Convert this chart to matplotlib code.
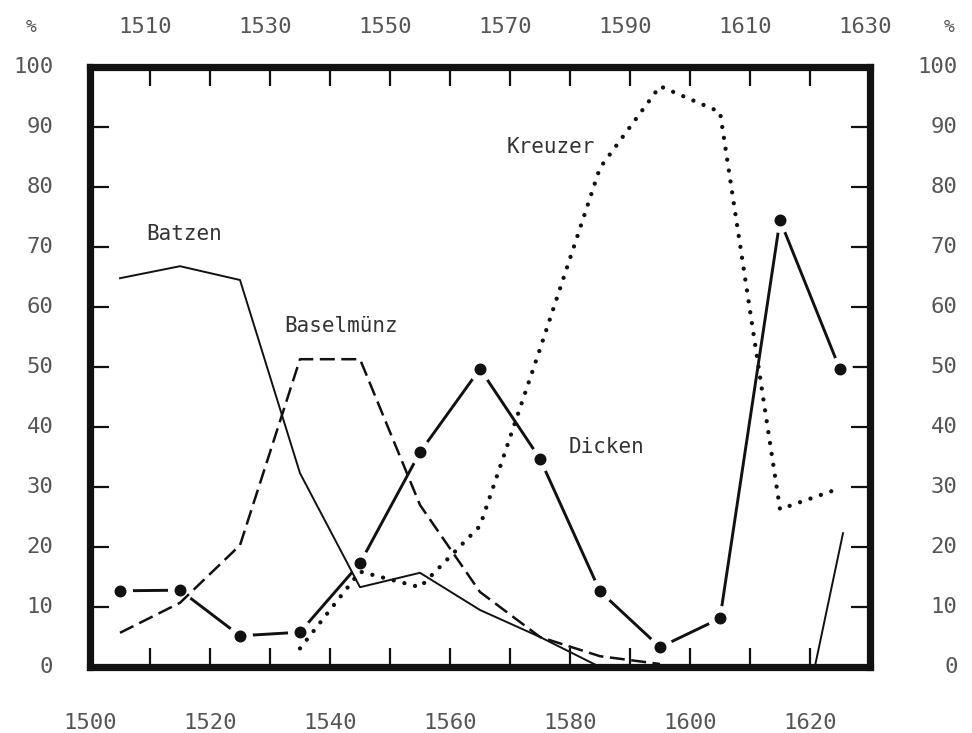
import matplotlib
matplotlib.use("Agg")
import matplotlib.pyplot as plt

plt.rcParams["font.family"] = ["DejaVu Sans Mono", "DejaVu Sans"]

# share of coin types (%) by decade mid-points
YEARS = [1505, 1515, 1525, 1535, 1545, 1555, 1565, 1575, 1585, 1595, 1605, 1615, 1625]

DICKEN = [12.7, 12.8, 5.2, 5.8, 17.3, 35.8, 49.7, 34.7, 12.6, 3.3, 8.1, 74.5, 49.6]

BATZEN_YEARS = [1505, 1515, 1525, 1535, 1545, 1555, 1565, 1575, 1585]
BATZEN = [64.8, 66.8, 64.5, 32.3, 13.3, 15.7, 9.5, 5.0, 0.0]
BATZEN_LATE_YEARS = [1620.8, 1625.5]
BATZEN_LATE = [0.0, 22.3]

BASEL_YEARS = [1505, 1515, 1525, 1535, 1545, 1555, 1565, 1575, 1585, 1595]
BASELMUENZ = [5.7, 10.7, 20.3, 51.3, 51.3, 27.0, 12.5, 5.0, 1.8, 0.5]

KREUZER_YEARS = [1535, 1545, 1555, 1565, 1575, 1585, 1595, 1605, 1615, 1625]
KREUZER = [3.1, 15.9, 13.3, 23.5, 53.0, 83.2, 96.8, 92.5, 26.3, 29.8]

BOTTOM_LABELS = [1500, 1520, 1540, 1560, 1580, 1600, 1620]
TOP_LABELS = [1510, 1530, 1550, 1570, 1590, 1610, 1630]
PCT_LABELS = [0, 10, 20, 30, 40, 50, 60, 70, 80, 90, 100]

SERIES_LABELS = [
    ("Batzen", 1515.7, 72.2),
    ("Baselmünz", 1541.8, 56.8),
    ("Kreuzer", 1576.8, 86.6),
    ("Dicken", 1586.0, 36.7),
]

TICK_COLOR = "#555555"

fig = plt.figure(figsize=(9.72, 7.33), dpi=100)
ax = fig.add_axes([90 / 972, 66 / 733, 780 / 972, 600 / 733])
ax.set_xlim(1500, 1630)
ax.set_ylim(0, 100)

# Dicken: thick line, dots with a white gap round them
ax.plot(YEARS, DICKEN, color="#111111", lw=2.1, zorder=2, solid_capstyle="butt")
ax.plot(YEARS, DICKEN, linestyle="none", marker="o", ms=18, mfc="white",
        mec="none", zorder=3)
ax.plot(YEARS, DICKEN, linestyle="none", marker="o", ms=8.6, mfc="#111111",
        mec="none", zorder=4)

# Batzen: thin solid
ax.plot(BATZEN_YEARS, BATZEN, color="#111111", lw=1.4, zorder=5)
ax.plot(BATZEN_LATE_YEARS, BATZEN_LATE, color="#111111", lw=1.4, zorder=5)

# Baselmuenz: dashed
bl, = ax.plot(BASEL_YEARS, BASELMUENZ, color="#111111", lw=1.8, zorder=5)
bl.set_dashes((6.0, 2.6))

# Kreuzer: round dots
kl, = ax.plot(KREUZER_YEARS, KREUZER, color="#111111", lw=3.1, zorder=5,
              dash_capstyle="round")
kl.set_dashes((0.01, 2.55))

for name, xx, yy in SERIES_LABELS:
    ax.text(xx, yy, name, ha="center", va="center", fontsize=15,
            color="#333333", zorder=6)

# frame and inward ticks
for side in ["left", "right", "top", "bottom"]:
    ax.spines[side].set_linewidth(5.2)
    ax.spines[side].set_color("#111111")
ax.set_xticks(range(1510, 1630, 10))
ax.set_yticks(range(10, 100, 10))
ax.tick_params(axis="both", which="major", direction="in", length=14, width=1.6,
               color="#111111", top=True, bottom=True, left=True, right=True,
               labelbottom=False, labelleft=False, labeltop=False, labelright=False)

lab = dict(fontsize=16, color=TICK_COLOR, va="center", annotation_clip=False)
for yr in BOTTOM_LABELS:
    ax.annotate(str(yr), (yr, 0), xytext=(0, -40), textcoords="offset points",
                ha="center", **lab)
for yr in TOP_LABELS:
    ax.annotate(str(yr), (yr, 100), xytext=(-3.5, 29), textcoords="offset points",
                ha="center", **lab)
for p in PCT_LABELS:
    ax.annotate(str(p), (1500, p), xytext=(-26.5, 0), textcoords="offset points",
                ha="right", **lab)
    ax.annotate(str(p), (1630, p), xytext=(63, 0), textcoords="offset points",
                ha="right", **lab)
ax.annotate("%", (1500, 100), xytext=(-42, 29), textcoords="offset points",
            ha="center", fontsize=13, color=TICK_COLOR, va="center",
            annotation_clip=False)
ax.annotate("%", (1630, 100), xytext=(57, 29), textcoords="offset points",
            ha="center", fontsize=13, color=TICK_COLOR, va="center",
            annotation_clip=False)

fig.savefig("out.png", dpi=100)
